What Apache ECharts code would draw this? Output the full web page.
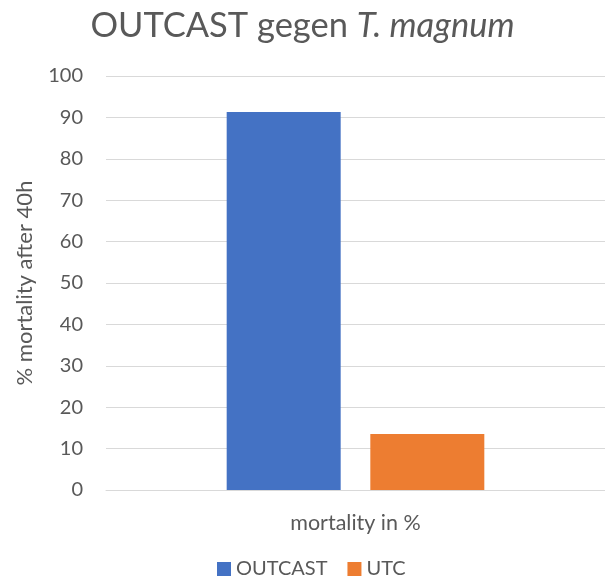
<!DOCTYPE html>
<html><head><meta charset="utf-8">
<script src="https://cdn.jsdelivr.net/npm/echarts@6/dist/echarts.min.js"></script>
<style>html,body{margin:0;padding:0;background:#fff}#c{width:605px;height:584px}</style>
</head><body><div id="c"></div>
<script>
const categories = ['mortality in %'];
const seriesNames = ['OUTCAST', 'UTC'];
const outcastValues = [91.3];
const utcValues = [13.5];
const yTicks = [0, 10, 20, 30, 40, 50, 60, 70, 80, 90, 100];

const font = 'Lato, "Open Sans", sans-serif';
const chart = echarts.init(document.getElementById('c'));
chart.setOption({
  animation: false,
  backgroundColor: '#fff',
  textStyle: { fontFamily: font },
  title: {
    text: '{n|OUTCAST gegen }{i|T. magnum}',
    left: 'center', top: 3,
    textStyle: {
      fontWeight: 'normal',
      rich: {
        n: { fontSize: 34.5, color: '#595959', fontFamily: font, fontWeight: 'normal' },
        i: { fontSize: 34.5, color: '#595959', fontStyle: 'italic', fontFamily: font, fontWeight: 'normal' }
      }
    }
  },
  legend: {
    data: seriesNames, bottom: 0, left: 212,
    itemWidth: 14, itemHeight: 14, itemGap: 20, icon: 'rect',
    textStyle: { fontSize: 20, color: '#595959', fontFamily: font }
  },
  grid: { left: 106, right: -13, top: 76, bottom: 94, containLabel: false },
  xAxis: {
    type: 'category', data: categories,
    axisLine: { lineStyle: { color: '#d9d9d9', width: 1 } },
    axisTick: { show: false },
    axisLabel: { color: '#595959', fontSize: 21.5, margin: 22, fontFamily: font }
  },
  yAxis: {
    type: 'value', min: yTicks[0], max: yTicks[yTicks.length-1], interval: 10,
    name: '% mortality after 40h', nameLocation: 'middle', nameGap: 70,
    nameTextStyle: { color: '#595959', fontSize: 22, fontFamily: font },
    axisLine: { show: false }, axisTick: { show: false },
    axisLabel: { color: '#595959', fontSize: 20, margin: 23, fontFamily: font },
    splitLine: { lineStyle: { color: '#d9d9d9', width: 1 } }
  },
  series: [
    { name: seriesNames[0], type: 'bar', data: outcastValues, barWidth: 114, barGap: '26%', itemStyle: { color: '#4472c4' } },
    { name: seriesNames[1], type: 'bar', data: utcValues, barWidth: 114, itemStyle: { color: '#ed7d31' } }
  ]
});
</script></body></html>
